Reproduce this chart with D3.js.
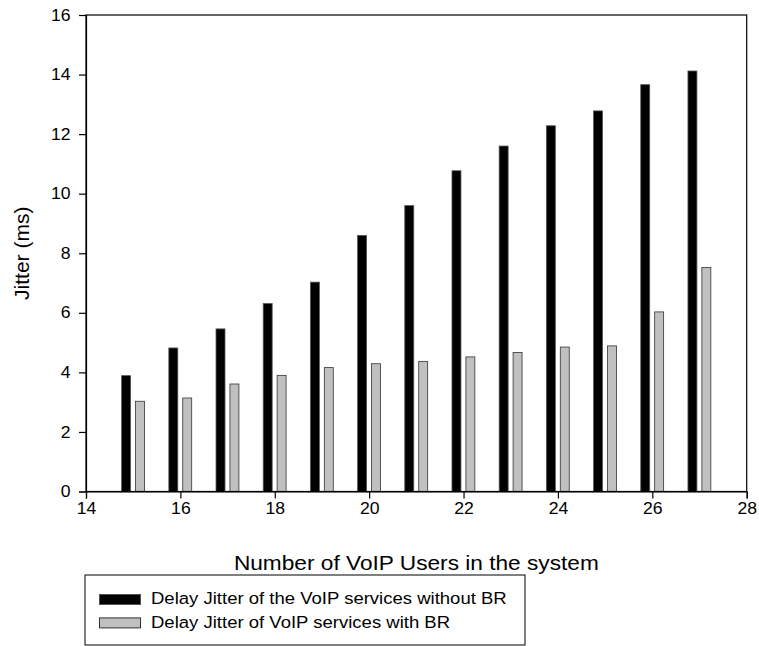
<!DOCTYPE html>
<html lang="en">
<head>
  <meta charset="utf-8">
  <title>Jitter vs VoIP users</title>
  <style>
    body {
      margin: 0;
      background: #fff;
    }

    text {
      font-family: Arial, "Liberation Sans", sans-serif;
      fill: #000;
    }

    .axis path, .axis line {
      stroke: #000;
      stroke-width: 1.2px;
    }

    .frame {
      fill: none;
      stroke: #000;
      stroke-width: 1.2px;
    }
  </style>
</head>
<body>

  <svg width="759" height="646"></svg>
  <script src="https://d3js.org/d3.v7.min.js"></script>
  <script>

  // data
  var users = [15, 16, 17, 18, 19, 20, 21, 22, 23, 24, 25, 26, 27];
  var jitterNoBR = [3.89, 4.82, 5.46, 6.31, 7.03, 8.60, 9.60, 10.77, 11.60, 12.28, 12.78, 13.66, 14.12];
  var jitterBR = [3.03, 3.14, 3.61, 3.90, 4.16, 4.29, 4.37, 4.52, 4.67, 4.85, 4.89, 6.03, 7.52];
  var xTicks = [14, 16, 18, 20, 22, 24, 26, 28];
  var yTicks = [0, 2, 4, 6, 8, 10, 12, 14, 16];
  var legendLabels = ["Delay Jitter of the VoIP services without BR", "Delay Jitter of VoIP services with BR"];

  var svg = d3.select("svg");

  var plot = { left: 86, right: 746.7, top: 15, bottom: 491.5 };

  // the source picture is a bit wider than tall, text looks stretched
  var sx = 1.1;

  var x = d3.scaleLinear().domain([14, 28]).range([plot.left, plot.right]);
  var y = d3.scaleLinear().domain([0, 16]).range([plot.bottom, plot.top]);

  var barW = 0.19;

  var series = [
    { values: jitterNoBR, offset: -0.245, fill: "#000", stroke: "#555" },
    { values: jitterBR, offset: 0.05, fill: "#c0c0c0", stroke: "#333" }
  ];

  series.forEach(function(s) {
    svg.append("g")
      .selectAll("rect")
      .data(users)
      .enter().append("rect")
        .attr("x", function(d) { return x(d + s.offset); })
        .attr("width", function(d) { return x(d + s.offset + barW) - x(d + s.offset); })
        .attr("y", function(d, i) { return y(s.values[i]); })
        .attr("height", function(d, i) { return y(0) - y(s.values[i]); })
        .attr("fill", s.fill)
        .attr("stroke", s.stroke)
        .attr("stroke-width", 0.8);
  });

  // frame around plot
  svg.append("rect")
    .attr("class", "frame")
    .attr("x", plot.left)
    .attr("y", plot.top)
    .attr("width", plot.right - plot.left)
    .attr("height", plot.bottom - plot.top);

  var xAxis = svg.append("g")
    .attr("class", "axis")
    .attr("transform", "translate(0," + plot.bottom + ")")
    .call(d3.axisBottom(x).tickValues(xTicks).tickSizeOuter(0).tickSize(7).tickPadding(4));

  xAxis.selectAll("text")
    .style("font-size", "16px")
    .attr("transform", "scale(" + sx + ",1)");

  var yAxis = svg.append("g")
    .attr("class", "axis")
    .attr("transform", "translate(" + plot.left + ",0)")
    .call(d3.axisLeft(y).tickValues(yTicks).tickSizeOuter(0).tickSize(7).tickPadding(7));

  yAxis.selectAll("text")
    .style("font-size", "16px")
    .attr("transform", "scale(" + sx + ",1)");

  // axis titles
  svg.append("text")
    .attr("text-anchor", "middle")
    .style("font-size", "21px")
    .attr("transform", "translate(" + ((plot.left + plot.right) / 2) + ",570) scale(1.08,1)")
    .text("Number of VoIP Users in the system");

  svg.append("text")
    .attr("text-anchor", "middle")
    .style("font-size", "21px")
    .attr("transform", "translate(28.5," + ((plot.top + plot.bottom) / 2) + ") rotate(-90)")
    .text("Jitter (ms)");

  // legend
  var legend = svg.append("g");

  legend.append("rect")
    .attr("x", 85)
    .attr("y", 575)
    .attr("width", 440)
    .attr("height", 70)
    .attr("fill", "#fff")
    .attr("stroke", "#000")
    .attr("stroke-width", 1);

  var items = legend.selectAll("g.item")
    .data(legendLabels)
    .enter().append("g")
      .attr("class", "item")
      .attr("transform", function(d, i) { return "translate(0," + (i * 23.4) + ")"; });

  items.append("rect")
    .attr("x", 99.5)
    .attr("y", 594.5)
    .attr("width", 41)
    .attr("height", 10)
    .attr("fill", function(d, i) { return series[i].fill; })
    .attr("stroke", function(d, i) { return series[i].stroke; })
    .attr("stroke-width", 1);

  items.append("text")
    .style("font-size", "17px")
    .attr("transform", "translate(151,604.3) scale(1.09,1)")
    .text(function(d) { return d; });

  </script>

</body>
</html>
